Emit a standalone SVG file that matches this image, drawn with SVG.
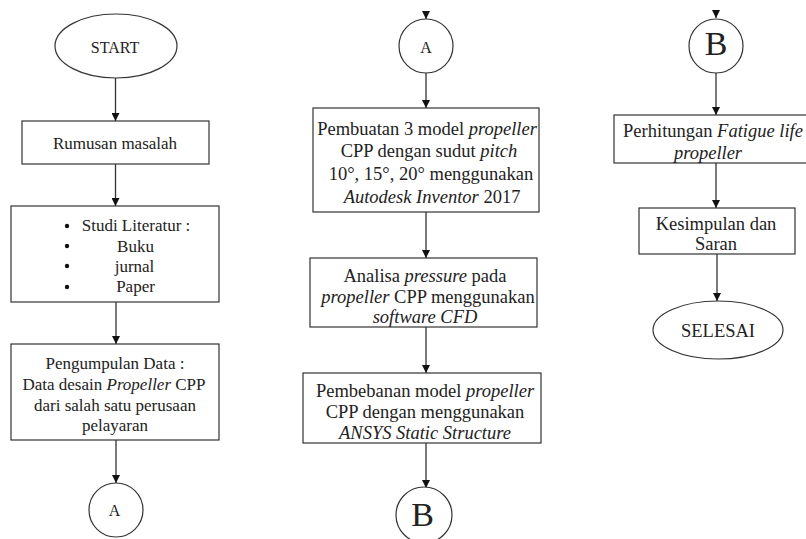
<svg xmlns="http://www.w3.org/2000/svg" width="806" height="539" viewBox="0 0 806 539">
<style>
.box{fill:#fff;stroke:#333;stroke-width:1.2}
.t{font-family:"Liberation Serif","Times New Roman",serif;fill:#222;text-anchor:middle}
.s17{font-size:17px}
.s18{font-size:18.5px}
.i{font-style:italic}
.c{stroke:#333;stroke-width:1.3;fill:none;marker-end:url(#ah)}
</style>
<defs>
<marker id="ah" markerUnits="userSpaceOnUse" markerWidth="8" markerHeight="8" refX="8" refY="4" orient="auto">
<path d="M0,0 L8,4 L0,8 z" fill="#111"/>
</marker>
</defs>
<rect width="806" height="539" fill="#fff"/>
<g id="connectors">
<line class="c" x1="115.5" y1="78" x2="115.5" y2="121"/>
<line class="c" x1="115.5" y1="164" x2="115.5" y2="206"/>
<line class="c" x1="116" y1="302" x2="116" y2="344"/>
<line class="c" x1="116" y1="440" x2="116" y2="483"/>
<line class="c" x1="426" y1="11" x2="426" y2="19"/>
<line class="c" x1="426" y1="72" x2="426" y2="108"/>
<line class="c" x1="426" y1="212" x2="426" y2="258"/>
<line class="c" x1="426" y1="327" x2="426" y2="373"/>
<line class="c" x1="426" y1="443" x2="426" y2="488"/>
<line class="c" x1="716" y1="10" x2="716" y2="18"/>
<line class="c" x1="716" y1="73" x2="716" y2="115"/>
<line class="c" x1="716" y1="163" x2="716" y2="208"/>
<line class="c" x1="717" y1="254" x2="717" y2="301"/>
</g>
<g id="start">
<ellipse class="box" cx="116" cy="46" rx="61" ry="32"/>
<text class="t" x="115" y="52.5" font-size="16">START</text>
</g>
<g id="rumusan">
<rect class="box" x="22" y="121" width="187" height="43"/>
<text class="t s17" x="115" y="149">Rumusan masalah</text>
</g>
<g id="studi">
<rect class="box" x="11" y="206" width="208" height="96"/>
<circle cx="67" cy="226" r="2.2" fill="#111"/>
<circle cx="67" cy="246" r="2.2" fill="#111"/>
<circle cx="67" cy="266" r="2.2" fill="#111"/>
<circle cx="67" cy="287" r="2.2" fill="#111"/>
<text class="t s17" x="136" y="231">Studi Literatur :</text>
<text class="t s17" x="135.5" y="251.5">Buku</text>
<text class="t s17" x="134.5" y="271.5">jurnal</text>
<text class="t s17" x="135.5" y="292">Paper</text>
</g>
<g id="pengumpulan">
<rect class="box" x="11" y="344" width="208" height="96"/>
<text class="t s17" x="115" y="369">Pengumpulan Data :</text>
<text class="t s17" x="114" y="390">Data desain <tspan class="i">Propeller</tspan> CPP</text>
<text class="t s17" x="115" y="411">dari salah satu perusaan</text>
<text class="t s17" x="115" y="431">pelayaran</text>
</g>
<g id="connA1">
<circle class="box" cx="116" cy="510" r="27"/>
<text class="t" x="114.5" y="515.5" font-size="16">A</text>
</g>
<g id="connA2">
<circle class="box" cx="426" cy="46" r="27"/>
<text class="t" x="426" y="53" font-size="16">A</text>
</g>
<g id="pembuatan">
<rect class="box" x="313" y="108" width="226" height="104"/>
<text class="t s18" x="427" y="134.5">Pembuatan 3 model <tspan class="i">propeller</tspan></text>
<text class="t s18" x="429" y="156.5">CPP dengan sudut <tspan class="i">pitch</tspan></text>
<text class="t s18" x="431" y="179.5">10°, 15°, 20° menggunakan</text>
<text class="t s18" x="432" y="203"><tspan class="i">Autodesk Inventor</tspan> 2017</text>
</g>
<g id="analisa">
<rect class="box" x="310" y="258" width="227" height="69"/>
<text class="t s18" x="425" y="281.5">Analisa <tspan class="i">pressure</tspan> pada</text>
<text class="t s18" x="428" y="303">
<tspan class="i">propeller</tspan> CPP menggunakan</text>
<text class="t s18 i" x="425" y="323">software CFD</text>
</g>
<g id="pembebanan">
<rect class="box" x="303" y="373" width="238" height="70"/>
<text class="t s18" x="425" y="396.5">Pembebanan model <tspan class="i">propeller</tspan></text>
<text class="t s18" x="425" y="418">CPP dengan menggunakan</text>
<text class="t s18 i" x="425" y="438.5">ANSYS Static Structure</text>
</g>
<g id="connB1">
<circle class="box" cx="424" cy="515" r="28"/>
<text class="t" x="422.5" y="525.5" font-size="34">B</text>
</g>
<g id="connB2">
<circle class="box" cx="716" cy="46" r="27"/>
<text class="t" x="716" y="55" font-size="34">B</text>
</g>
<g id="perhitungan">
<rect class="box" x="614" y="115" width="194" height="48"/>
<text class="t s18" x="713" y="136.5">Perhitungan <tspan class="i">Fatigue life</tspan></text>
<text class="t s18 i" x="708" y="159">propeller</text>
</g>
<g id="kesimpulan">
<rect class="box" x="639" y="208" width="156" height="46"/>
<text class="t s18" x="716" y="229.5">Kesimpulan dan</text>
<text class="t s18" x="716" y="249.5">Saran</text>
</g>
<g id="selesai">
<ellipse class="box" cx="718" cy="330" rx="65" ry="29"/>
<text class="t s18" x="718" y="336.5">SELESAI</text>
</g>
</svg>
